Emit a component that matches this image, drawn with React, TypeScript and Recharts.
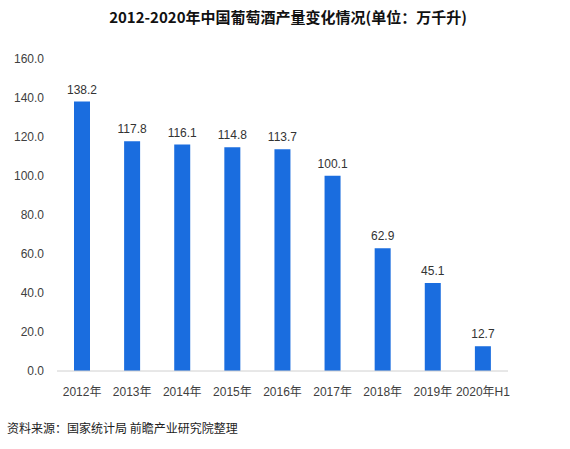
import * as React from "react";
import { BarChart, Bar, XAxis, YAxis, LabelList } from "recharts";

const categories = [
  "2012年",
  "2013年",
  "2014年",
  "2015年",
  "2016年",
  "2017年",
  "2018年",
  "2019年",
  "2020年H1",
];
const output = [138.2, 117.8, 116.1, 114.8, 113.7, 100.1, 62.9, 45.1, 12.7];
const yTicks = [0, 20, 40, 60, 80, 100, 120, 140, 160];

const data = categories.map((year, i) => ({ year, value: output[i] }));

const font = '"Liberation Sans", "Noto Sans CJK SC", sans-serif';
const barColor = "#1a6ddf";

export default function App() {
  return (
    <div
      style={{
        position: "absolute",
        left: 0,
        top: 0,
        width: 570,
        height: 449,
        background: "#fff",
        fontFamily: font,
      }}
    >
      <div
        style={{
          position: "absolute",
          top: 6,
          left: 0,
          width: 576,
          textAlign: "center",
          fontSize: 15,
          fontWeight: "bold",
          color: "#111",
          fontFamily: '"Noto Sans CJK SC", sans-serif',
        }}
      >
        2012-2020年中国葡萄酒产量变化情况(单位：万千升)
      </div>
      <BarChart
        width={570}
        height={449}
        data={data}
        margin={{ top: 59, right: 62, left: 0, bottom: 48 }}
        barCategoryGap={17}
      >
        <XAxis
          dataKey="year"
          height={30}
          axisLine={{ stroke: "#d0d0d0" }}
          tickLine={false}
          tick={{ fontSize: 12, fill: "#404040", fontFamily: font }}
          tickMargin={10}
          interval={0}
        />
        <YAxis
          width={57}
          domain={[0, 160]}
          ticks={yTicks}
          axisLine={false}
          tickLine={false}
          tickSize={0}
          tickMargin={13}
          tickFormatter={(v: number) => v.toFixed(1)}
          tick={{ fontSize: 12, fill: "#404040", fontFamily: font }}
        />
        <Bar dataKey="value" fill={barColor} isAnimationActive={false}>
          <LabelList
            dataKey="value"
            position="top"
            offset={8}
            formatter={(v: number) => v.toFixed(1)}
            style={{ fontSize: 12, fill: "#333", fontFamily: font }}
          />
        </Bar>
      </BarChart>
      <div
        style={{
          position: "absolute",
          left: 7,
          top: 419,
          fontSize: 12,
          color: "#222",
          fontFamily: '"Noto Sans CJK SC", sans-serif',
        }}
      >
        资料来源：国家统计局 前瞻产业研究院整理
      </div>
    </div>
  );
}
